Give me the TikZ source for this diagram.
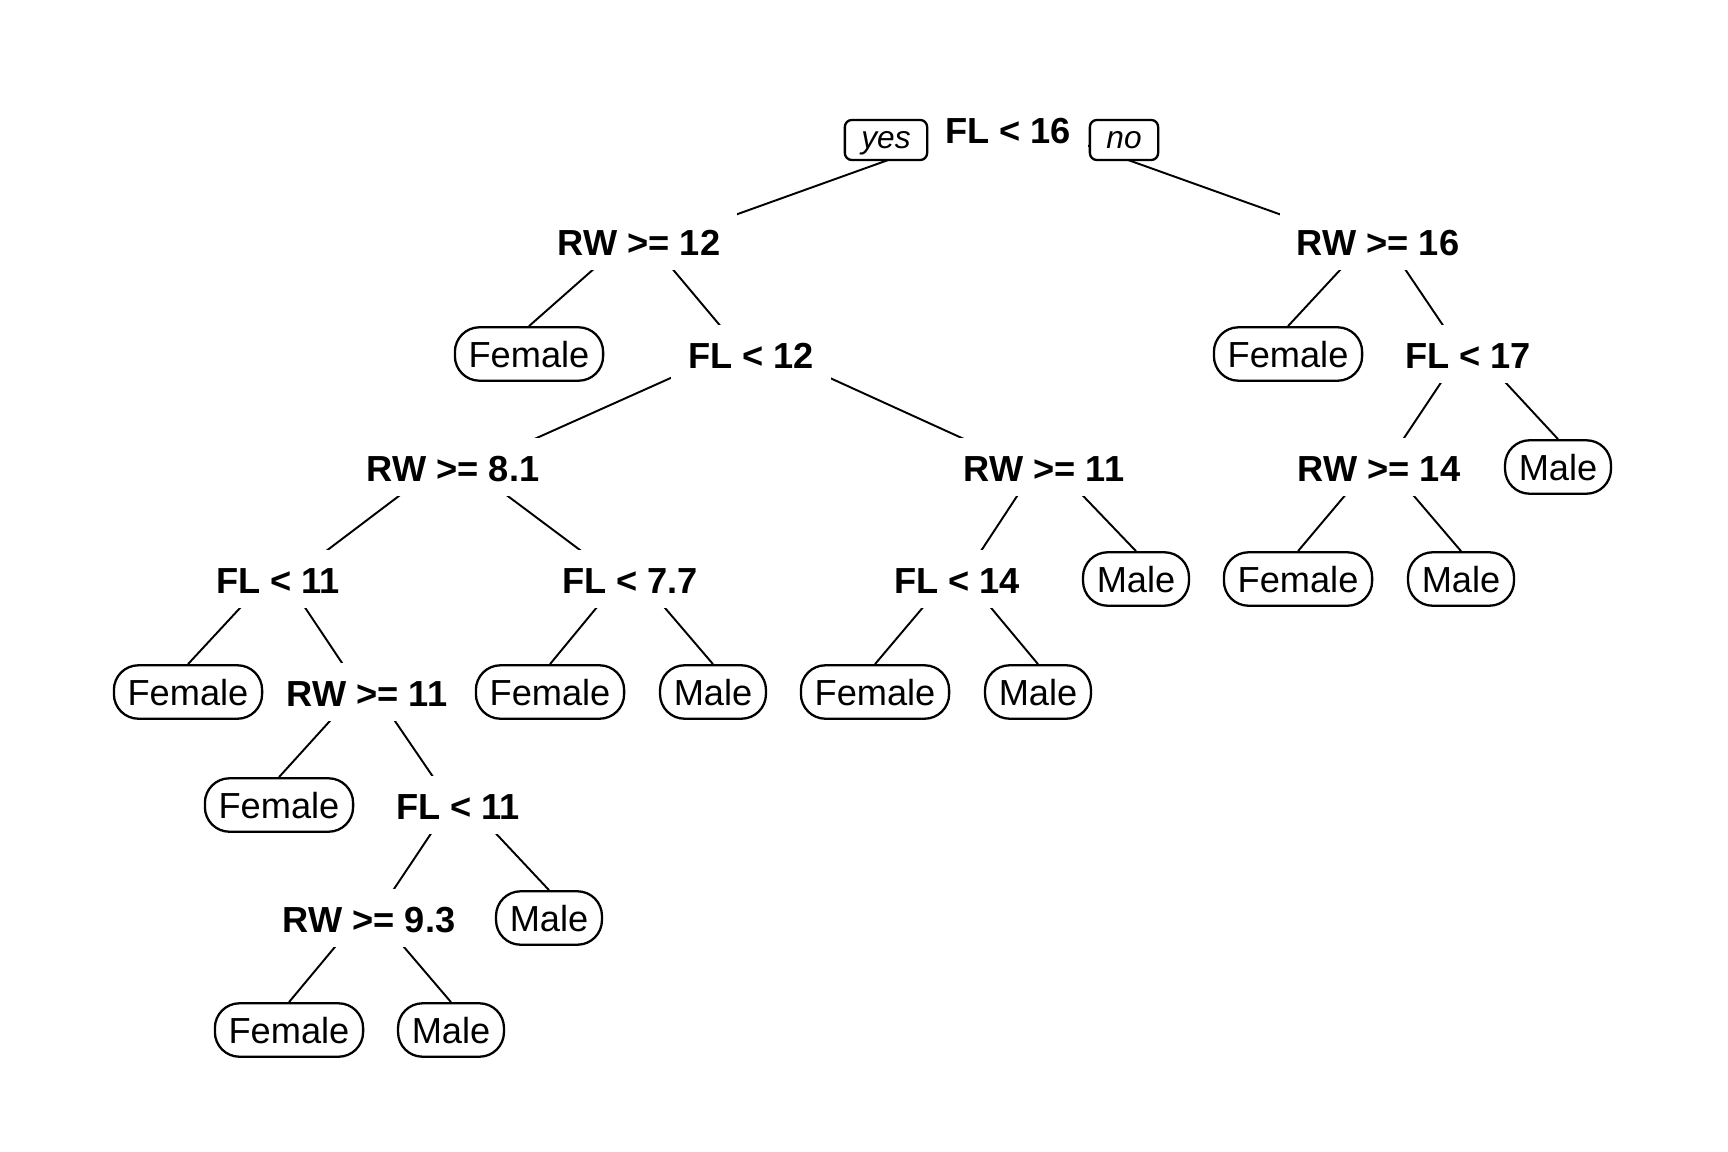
\documentclass[tikz,border=0pt]{standalone}
\usepackage{fontspec}
\setmainfont{Liberation Sans}
\usetikzlibrary{backgrounds}

\begin{document}
\begin{tikzpicture}[
    x=0.01cm, y=-0.01cm,
    font=\fontsize{10.3}{12}\selectfont,
    rule/.style={fill=white,font=\fontsize{10.3}{12}\selectfont\bfseries,
      inner xsep=4.8pt,inner ysep=4pt,text height=8.4pt,text depth=0pt},
    leaf/.style={draw,fill=white,line width=0.65pt,rounded corners=7pt,
      inner xsep=3.9pt,inner ysep=0pt,minimum height=15.2pt,
      text height=7.4pt,text depth=0pt},
    answer/.style={draw,fill=white,line width=0.65pt,rounded corners=2pt,
      font=\fontsize{9}{11}\selectfont\itshape,inner xsep=4.7pt,
      inner ysep=0pt,minimum height=11.4pt,text height=6.6pt,
      text depth=1.9pt},
    branch/.style={black,line width=0.55pt},
  ]
  \useasboundingbox (0,0) rectangle (1728,1152);

  % Root and the yes/no labels
  \node[rule] (n1) at (1008,129) {FL < 16};
  \node[answer] (yes) at (886,140) {yes};
  \node[answer] (no) at (1124,140) {no};

  % Split nodes
  \node[rule] (n2) at (639,241) {RW >= 12};
  \node[rule] (n3) at (1378,241) {RW >= 16};
  \node[rule] (n5) at (751,354) {FL < 12};
  \node[rule] (n7) at (1468,354) {FL < 17};
  \node[rule] (n10) at (453,467) {RW >= 8.1};
  \node[rule] (n11) at (1044,467) {RW >= 11};
  \node[rule] (n14) at (1379,467) {RW >= 14};
  \node[rule] (n20) at (278,579) {FL < 11};
  \node[rule] (n21) at (630,579) {FL < 7.7};
  \node[rule] (n22) at (957,579) {FL < 14};
  \node[rule] (n41) at (367,692) {RW >= 11};
  \node[rule] (n83) at (458,805) {FL < 11};
  \node[rule] (n166) at (369,918) {RW >= 9.3};

  % Leaves
  \node[leaf] (n4) at (529,354) {Female};
  \node[leaf] (n6) at (1288,354) {Female};
  \node[leaf] (n15) at (1558,467) {Male};
  \node[leaf] (n23) at (1136,579) {Male};
  \node[leaf] (n28) at (1298,579) {Female};
  \node[leaf] (n29) at (1461,579) {Male};
  \node[leaf] (n40) at (188,692) {Female};
  \node[leaf] (n42) at (550,692) {Female};
  \node[leaf] (n43) at (713,692) {Male};
  \node[leaf] (n44) at (875,692) {Female};
  \node[leaf] (n45) at (1038,692) {Male};
  \node[leaf] (n82) at (279,805) {Female};
  \node[leaf] (n167) at (549,918) {Male};
  \node[leaf] (n332) at (289,1030) {Female};
  \node[leaf] (n333) at (451,1030) {Male};

  % Branches, hidden behind the labels
  \begin{pgfonlayer}{background}
    \foreach \from/\to in {n1/n2, n1/n3, n2/n5, n3/n7, n5/n10, n5/n11,
                           n7/n14, n10/n20, n10/n21, n11/n22, n20/n41,
                           n41/n83, n83/n166}
      \draw[branch] ([yshift=3.4pt] \from.center) --
        ([yshift=-2.4pt] \to.center);
    \foreach \from/\to in {n2/n4, n3/n6, n7/n15, n11/n23, n14/n28, n14/n29,
                           n20/n40, n21/n42, n21/n43, n22/n44, n22/n45,
                           n41/n82, n83/n167, n166/n332, n166/n333}
      \draw[branch] ([yshift=3.4pt] \from.center) -- (\to.north);
  \end{pgfonlayer}
\end{tikzpicture}
\end{document}
